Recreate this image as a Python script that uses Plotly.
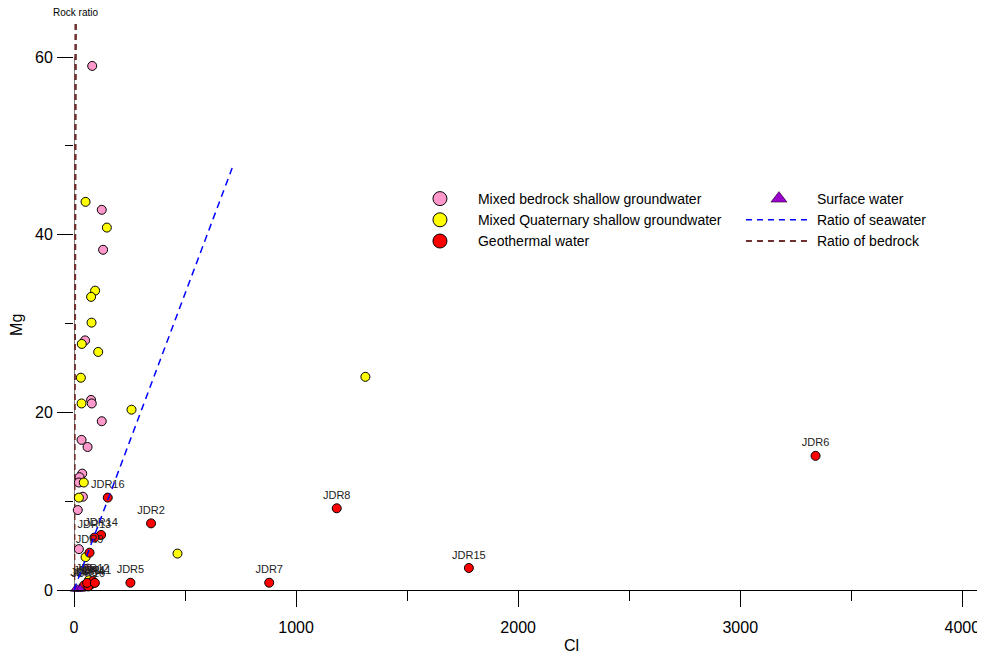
import plotly.graph_objects as go

# ---------------- data ----------------
bedrock_cl = [82, 125, 131, 50, 77, 80, 125, 34, 61, 37, 25, 22, 40, 17, 22, 62]
bedrock_mg = [59.0, 42.8, 38.3, 28.1, 21.4, 21.0, 19.0, 16.9, 16.1, 13.1, 12.7, 12.1, 10.5, 9.0, 4.6, 2.4]

quat_cl = [52, 148, 95, 77, 79, 35, 109, 31, 34, 259, 44, 22, 52, 67, 466, 1312]
quat_mg = [43.7, 40.8, 33.7, 33.0, 30.1, 27.7, 26.8, 23.9, 21.0, 20.3, 12.1, 10.4, 3.7, 1.1, 4.1, 24.0]

geo_names = ["JDR6", "JDR8", "JDR15", "JDR7", "JDR2", "JDR5", "JDR16", "JDR14", "JDR13", "JDR9",
             "JDR3", "JDR4", "JDR12", "JDR10", "JDR1", "JDR11"]
geo_cl = [3339, 1183, 1778, 879, 347, 254, 152, 122, 92, 70, 45, 75, 84, 64, 59, 94]
geo_mg = [15.1, 9.2, 2.48, 0.82, 7.5, 0.82, 10.4, 6.2, 5.9, 4.2, 0.5, 0.6, 1.0, 0.4, 0.8, 0.8]

surf_cl = [7, 18, 29]
surf_mg = [0.1, 0.1, 0.1]

seawater_cl = [0, 712]
seawater_mg = [0, 47.5]

bedrock_ratio_cl = [0, 7.7]
bedrock_ratio_mg = [0, 64.2]

x_range = [0, 4102]
y_range = [0, 64.17]

FONT = "Arial, Liberation Sans, sans-serif"

PINK, YELLOW, RED, PURPLE = "#FF99CC", "#FFFF00", "#FF0000", "#9900CC"
BLUE, BROWN = "#0000FF", "#6E2F2F"

fig = go.Figure()

# ---- plotted data ----
fig.add_trace(go.Scatter(
    x=bedrock_ratio_cl, y=bedrock_ratio_mg, mode="lines", showlegend=False,
    line=dict(color=BROWN, width=2.5, dash="6px,4px"), cliponaxis=False))

fig.add_trace(go.Scatter(
    x=bedrock_cl, y=bedrock_mg, mode="markers", showlegend=False,
    marker=dict(color=PINK, size=9, line=dict(color="black", width=1)), cliponaxis=False))

fig.add_trace(go.Scatter(
    x=quat_cl, y=quat_mg, mode="markers", showlegend=False,
    marker=dict(color=YELLOW, size=9, line=dict(color="black", width=1)), cliponaxis=False))

fig.add_trace(go.Scatter(
    x=geo_cl, y=geo_mg, mode="markers+text", showlegend=False, text=geo_names,
    textposition="top center", textfont=dict(family=FONT, size=11, color="#222222"),
    marker=dict(color=RED, size=9, line=dict(color="black", width=1)), cliponaxis=False))

fig.add_trace(go.Scatter(
    x=surf_cl, y=surf_mg, mode="markers", showlegend=False,
    marker=dict(color=PURPLE, size=9, symbol="triangle-up", line=dict(color="black", width=0.5)),
    cliponaxis=False))

fig.add_trace(go.Scatter(
    x=seawater_cl, y=seawater_mg, mode="lines", showlegend=False,
    line=dict(color=BLUE, width=1.5, dash="7px,5px"), cliponaxis=False))

# ---- legend entries (legend-only, no data drawn) ----
legend_items = [
    ("Mixed bedrock shallow groundwater", "markers", PINK, "circle"),
    ("Surface water", "markers", PURPLE, "triangle-up"),
    ("Mixed Quaternary shallow groundwater", "markers", YELLOW, "circle"),
    ("Ratio of seawater", "lines", BLUE, None),
    ("Geothermal water", "markers", RED, "circle"),
    ("Ratio of bedrock", "lines", BROWN, None),
]
for name, mode, color, symbol in legend_items:
    if mode == "markers":
        fig.add_trace(go.Scatter(
            x=[None], y=[None], mode="markers", name=name,
            marker=dict(color=color, size=14, symbol=symbol,
                        line=dict(color="black", width=1 if symbol == "circle" else 0.5))))
    else:
        fig.add_trace(go.Scatter(
            x=[None], y=[None], mode="lines", name=name,
            line=dict(color=color, width=1.5 if color == BLUE else 2,
                      dash="6px,5px" if color == BLUE else "6px,5px")))

fig.update_layout(
    width=977, height=647,
    margin=dict(l=66, r=0, t=12, b=65, autoexpand=False),
    paper_bgcolor="white", plot_bgcolor="white",
    font=dict(family=FONT, size=14, color="black"),
    showlegend=True,
    legend=dict(
        orientation="h", x=0.360, y=0.714, xanchor="left", yanchor="top",
        bgcolor="rgba(0,0,0,0)", itemwidth=66, entrywidth=258, itemsizing="trace",
        font=dict(family=FONT, size=14, color="black"), traceorder="normal",
    ),
    xaxis=dict(
        range=x_range, showgrid=False, zeroline=False, showline=True,
        linecolor="black", linewidth=1,
        tickmode="linear", tick0=0, dtick=1000, ticks="outside", ticklen=16,
        tickcolor="black", tickwidth=1, tickfont=dict(family=FONT, size=16, color="black"),
        ticklabelstandoff=7,
        minor=dict(tickmode="linear", tick0=0, dtick=500, ticks="outside", ticklen=10,
                   tickcolor="black", tickwidth=1),
    ),
    yaxis=dict(
        range=y_range, showgrid=False, zeroline=False, showline=False,
        tickmode="linear", tick0=0, dtick=20, ticks="outside", ticklen=16,
        tickcolor="black", tickwidth=1, tickfont=dict(family=FONT, size=16, color="black"),
        ticklabelstandoff=1,
        minor=dict(tickmode="linear", tick0=0, dtick=10, ticks="outside", ticklen=8,
                   tickcolor="black", tickwidth=1),
    ),
    shapes=[dict(type="line", xref="x", yref="y", x0=0, x1=0, y0=0, y1=60,
                 line=dict(color="black", width=1), layer="below")],
    annotations=[
        dict(text="Rock ratio", x=7.7, y=y_range[1], xref="x", yref="y", showarrow=False,
             xanchor="center", yanchor="bottom", font=dict(family=FONT, size=10, color="black")),
        dict(text="Cl", x=0.5466, y=-0.0965, xref="paper", yref="paper", showarrow=False,
             xanchor="center", yanchor="middle", font=dict(family=FONT, size=16, color="black")),
        dict(text="Mg", x=-0.0626, y=0.465, xref="paper", yref="paper", showarrow=False,
             textangle=-90, xanchor="center", yanchor="middle",
             font=dict(family=FONT, size=16, color="black")),
    ],
)

fig.write_html("out.html")
